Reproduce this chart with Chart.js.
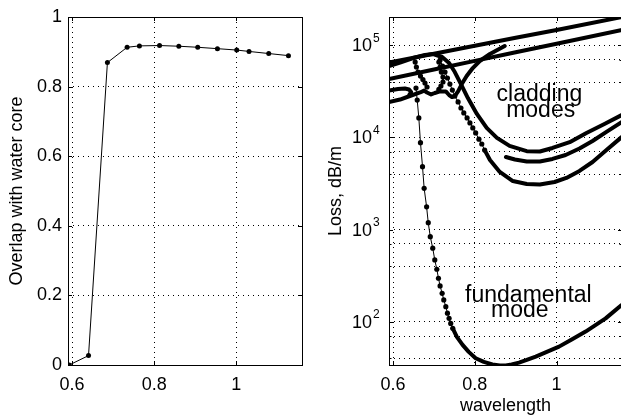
<!DOCTYPE html>
<html>
<head>
<meta charset="utf-8">
<script src="https://cdn.jsdelivr.net/npm/chart.js@4.4.1/dist/chart.umd.min.js"></script>
<style>
  html, body { margin: 0; padding: 0; background: #fff; overflow: hidden; }
  #wrap { position: relative; width: 621px; height: 417px; overflow: hidden; }
  canvas { position: absolute; top: 0; }
  #overlap-chart { left: 0; }
  #loss-chart { left: 320px; }
</style>
</head>
<body>
<div id="wrap">
  <canvas id="overlap-chart" width="320" height="417"></canvas>
  <canvas id="loss-chart" width="320" height="417"></canvas>
</div>
<script>
// Axis ticks
const wavelengthTicks = [0.6, 0.8, 1.0];
const overlapTicks = [0, 0.2, 0.4, 0.6, 0.8, 1];
const lossMajorTicks = [1e2, 1e3, 1e4, 1e5];

// Left panel: overlap with water core
const overlapWavelength = [0.593, 0.640, 0.686, 0.734, 0.764, 0.813, 0.860, 0.906, 0.954, 1.001, 1.031, 1.079, 1.127];
const overlapValue = [0, 0.027, 0.869, 0.913, 0.917, 0.918, 0.916, 0.913, 0.909, 0.905, 0.901, 0.895, 0.889];

// Right panel: loss curves (wavelength, dB/m)
const lineAWl = [0.590, 0.700, 0.800, 0.900, 1.000, 1.160];
const lineALoss = [6.5e4, 8.1e4, 9.9e4, 1.21e5, 1.47e5, 2.03e5];

const lineBWl = [0.590, 0.700, 0.800, 0.900, 1.000, 1.160];
const lineBLoss = [4.3e4, 5.46e4, 6.78e4, 8.41e4, 1.04e5, 1.47e5];

const upperUWl = [0.590, 0.617, 0.649, 0.678, 0.698, 0.720, 0.737, 0.751, 0.766, 0.783, 0.805, 0.829, 0.854, 0.885, 0.927, 0.959, 0.990, 1.032, 1.073, 1.117, 1.159];
const upperULoss = [5.96e4, 6.5e4, 7.28e4, 7.85e4, 8.05e4, 7.47e4, 6.43e4, 5.13e4, 3.8e4, 2.68e4, 1.8e4, 1.27e4, 9.9e3, 8.1e3, 7.1e3, 7.05e3, 7.7e3, 8.9e3, 1.12e4, 1.4e4, 1.75e4];

const middleUWl = [0.876, 0.898, 0.927, 0.959, 0.990, 1.022, 1.056, 1.088, 1.122, 1.159];
const middleULoss = [6.15e3, 5.77e3, 5.49e3, 5.49e3, 5.85e3, 6.46e3, 7.6e3, 9.17e3, 1.15e4, 1.47e4];

const lowerUDotWl = [0.715, 0.721, 0.727, 0.733, 0.739, 0.745, 0.751, 0.759, 0.766, 0.773, 0.781, 0.788, 0.795, 0.802, 0.810, 0.817, 0.824];
const lowerUDotLoss = [6.93e4, 5.96e4, 5.13e4, 4.42e4, 3.8e4, 3.27e4, 2.82e4, 2.43e4, 2.09e4, 1.85e4, 1.63e4, 1.44e4, 1.27e4, 1.12e4, 9.6e3, 8.5e3, 7.3e3];
const lowerUWl = [0.824, 0.837, 0.861, 0.893, 0.927, 0.959, 0.995, 1.024, 1.056, 1.088, 1.122, 1.159];
const lowerULoss = [7.3e3, 5.7e3, 4.23e3, 3.37e3, 3.13e3, 3.09e3, 3.29e3, 3.64e3, 4.34e3, 5.42e3, 7.31e3, 1.01e4];

const risingWl = [0.590, 0.617, 0.641, 0.666, 0.676, 0.683, 0.693, 0.702, 0.715, 0.729, 0.737, 0.744, 0.751, 0.759, 0.768, 0.780, 0.795, 0.812, 0.837, 0.873];
const risingLoss = [2.43e4, 2.58e4, 2.82e4, 3.08e4, 3.23e4, 3.08e4, 2.93e4, 3.04e4, 3.16e4, 3.16e4, 2.89e4, 2.75e4, 2.82e4, 3.16e4, 3.8e4, 4.64e4, 5.67e4, 6.76e4, 8.05e4, 9.83e4];

const hookWl = [0.590, 0.612, 0.629, 0.639, 0.644, 0.640];
const hookLoss = [3.24e4, 3.36e4, 3.4e4, 3.32e4, 3.11e4, 2.92e4];

const loopAWl = [0.654, 0.657, 0.661, 0.667, 0.673, 0.678, 0.683];
const loopALoss = [6.59e4, 5.82e4, 5.13e4, 4.64e4, 4.26e4, 3.9e4, 3.53e4];
const loopBWl = [0.712, 0.715, 0.718, 0.722, 0.722, 0.717, 0.712];
const loopBLoss = [6.59e4, 5.82e4, 5.13e4, 4.53e4, 4.0e4, 3.62e4, 3.32e4];

const fundDotWl = [0.656, 0.659, 0.663, 0.667, 0.672, 0.676, 0.682, 0.686, 0.691, 0.697, 0.702, 0.707, 0.711, 0.715, 0.720, 0.724, 0.729, 0.733, 0.737, 0.741, 0.746];
const fundDotLoss = [3.44e4, 2.55e4, 1.63e4, 8.79e3, 4.82e3, 2.81e3, 1.77e3, 1.19e3, 840, 629, 469, 372, 297, 245, 204, 173, 146, 124, 109, 96, 85];
const fundWl = [0.746, 0.756, 0.770, 0.785, 0.802, 0.822, 0.843, 0.861, 0.876, 0.890, 0.908, 0.927, 0.949, 0.976, 1.006, 1.037, 1.071, 1.096, 1.120, 1.159];
const fundLoss = [85, 68.6, 56.2, 47.2, 40.3, 36.7, 34.5, 33.6, 33.6, 34.5, 36.1, 38.6, 42.0, 47.2, 53.8, 64.4, 78.3, 92.6, 109, 152];

const FONT = '"Liberation Sans", Arial, Helvetica, sans-serif';

function pts(xs, ys) {
    return xs.map((x, i) => ({ x: x, y: ys[i] }));
}

function thick(xs, ys) {
    return {
        data: pts(xs, ys), showLine: true, borderColor: '#000', borderWidth: 4,
        pointRadius: 0, borderCapStyle: 'round', borderJoinStyle: 'round'
    };
}

function dotted(xs, ys) {
    return {
        data: pts(xs, ys), showLine: true, borderColor: '#000', borderWidth: 1,
        pointRadius: 2.6, pointBackgroundColor: '#000', pointBorderWidth: 0
    };
}

// box around the plot, inward tick marks, log labels and text notes
const matlabAxes = {
    id: 'matlabAxes',
    afterDraw(chart, args, opts) {
        const ctx = chart.ctx;
        const a = chart.chartArea;
        const xs = chart.scales.x, ys = chart.scales.y;
        ctx.save();
        ctx.strokeStyle = '#000';
        ctx.lineWidth = 1;
        ctx.beginPath();
        xs.ticks.forEach(t => {
            const px = Math.round(xs.getPixelForValue(t.value)) + 0.5;
            ctx.moveTo(px, a.bottom); ctx.lineTo(px, a.bottom - 4);
            ctx.moveTo(px, a.top); ctx.lineTo(px, a.top + 4);
        });
        ys.ticks.forEach(t => {
            const len = (opts.log && !lossMajorTicks.includes(t.value)) ? 2.5 : 4;
            const py = Math.round(ys.getPixelForValue(t.value)) + 0.5;
            ctx.moveTo(a.left, py); ctx.lineTo(a.left + len, py);
            ctx.moveTo(a.right, py); ctx.lineTo(a.right - len, py);
        });
        ctx.stroke();
        ctx.strokeRect(Math.round(a.left) + 0.5, Math.round(a.top) + 0.5,
            Math.round(a.right - a.left), Math.round(a.bottom - a.top));

        ctx.fillStyle = '#000';
        if (opts.log) {
            lossMajorTicks.forEach(v => {
                const py = ys.getPixelForValue(v);
                ctx.font = '18px ' + FONT;
                ctx.textAlign = 'right';
                ctx.textBaseline = 'middle';
                ctx.fillText('10', a.left - 17, py + 1);
                ctx.font = '12px ' + FONT;
                ctx.textAlign = 'left';
                ctx.fillText(String(Math.round(Math.log10(v))), a.left - 16, py - 7);
            });
        }
        (opts.notes || []).forEach(n => {
            ctx.font = '23px ' + FONT;
            ctx.textAlign = 'center';
            ctx.textBaseline = 'alphabetic';
            ctx.fillText(n.text, xs.getPixelForValue(n.x), ys.getPixelForValue(n.y));
        });
        ctx.restore();
    }
};

const commonX = {
    type: 'linear', min: 0.59, max: 1.16,
    afterBuildTicks: s => { s.ticks = wavelengthTicks.map(v => ({ value: v })); },
    afterFit: s => { s.height = 52; },
    grid: { color: '#000', lineWidth: 1, drawTicks: false },
    border: { display: false, dash: [1, 4] },
    ticks: { color: '#000', padding: 9, font: { family: FONT, size: 18 }, callback: v => String(v) }
};

// Left: overlap
new Chart(document.getElementById('overlap-chart').getContext('2d'), {
    type: 'scatter',
    data: {
        datasets: [{
            data: pts(overlapWavelength, overlapValue), showLine: true,
            borderColor: '#000', borderWidth: 1, pointRadius: 2.5,
            pointBackgroundColor: '#000', pointBorderWidth: 0
        }]
    },
    options: {
        responsive: false, animation: false, events: [],
        layout: { padding: { top: 17, right: 18, left: 0, bottom: 0 } },
        plugins: { legend: { display: false }, tooltip: { enabled: false }, matlabAxes: {} },
        scales: {
            x: commonX,
            y: {
                type: 'linear', min: 0, max: 1,
                afterBuildTicks: s => { s.ticks = overlapTicks.map(v => ({ value: v })); },
                afterFit: s => { s.width = 68; },
                grid: { color: '#000', lineWidth: 1, drawTicks: false },
                border: { display: false, dash: [1, 4] },
                ticks: { color: '#000', padding: 6, font: { family: FONT, size: 18 }, callback: v => String(v) },
                title: {
                    display: true, text: 'Overlap with water core', color: '#000',
                    font: { family: FONT, size: 18 }, padding: { top: 6, bottom: 0 }
                }
            }
        }
    },
    plugins: [matlabAxes]
});

// Right: loss
const lossGrid = [];
[10, 100, 1000, 10000, 100000].forEach(d => {
    for (let k = 1; k < 10; k++) {
        if (k * d >= 34 && k * d <= 2.03e5) lossGrid.push(k * d);
    }
});

new Chart(document.getElementById('loss-chart').getContext('2d'), {
    type: 'scatter',
    data: {
        datasets: [
            thick(lineAWl, lineALoss),
            thick(lineBWl, lineBLoss),
            thick(upperUWl, upperULoss),
            thick(middleUWl, middleULoss),
            dotted(lowerUDotWl, lowerUDotLoss),
            thick(lowerUWl, lowerULoss),
            thick(risingWl, risingLoss),
            thick(hookWl, hookLoss),
            dotted(loopAWl, loopALoss),
            dotted(loopBWl, loopBLoss),
            dotted(fundDotWl, fundDotLoss),
            thick(fundWl, fundLoss)
        ]
    },
    options: {
        responsive: false, animation: false, events: [],
        layout: { padding: { top: 17, right: 18, left: 0, bottom: 0 } },
        plugins: {
            legend: { display: false }, tooltip: { enabled: false },
            matlabAxes: {
                log: true,
                notes: [
                    { text: 'cladding', x: 0.958, y: 2.51e4 },
                    { text: 'modes', x: 0.961, y: 1.68e4 },
                    { text: 'fundamental', x: 0.931, y: 166 },
                    { text: 'mode', x: 0.910, y: 114 }
                ]
            }
        },
        scales: {
            x: Object.assign({}, commonX, {
                title: {
                    display: true, text: 'wavelength', color: '#000',
                    font: { family: FONT, size: 18 }, padding: { top: 0, bottom: 0 }
                }
            }),
            y: {
                type: 'logarithmic', min: 34, max: 2.03e5,
                afterBuildTicks: s => { s.ticks = lossGrid.map(v => ({ value: v })); },
                afterFit: s => { s.width = 69; },
                grid: { color: '#000', lineWidth: 1, drawTicks: false },
                border: { display: false, dash: [1, 4] },
                ticks: { color: '#000', padding: 6, font: { family: FONT, size: 18 }, callback: () => '' },
                title: {
                    display: true, text: 'Loss, dB/m', color: '#000',
                    font: { family: FONT, size: 18 }, padding: { top: 5, bottom: 0 }
                }
            }
        }
    },
    plugins: [matlabAxes]
});
</script>
</body>
</html>
